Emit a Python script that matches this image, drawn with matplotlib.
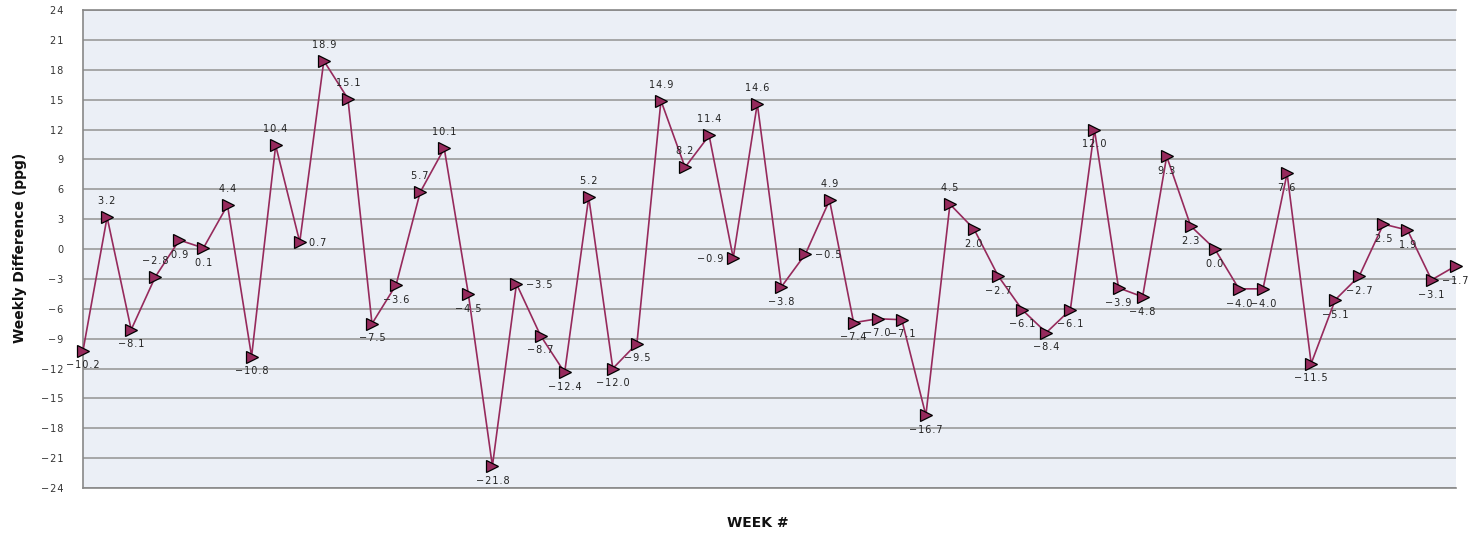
import numpy as np
import matplotlib.pyplot as plt

# weekly differences (ppg), week index 1..58
values = [-10.2, 3.2, -8.1, -2.8, 0.9, 0.1, 4.4, -10.8, 10.4, 0.7,
          18.9, 15.1, -7.5, -3.6, 5.7, 10.1, -4.5, -21.8, -3.5, -8.7,
          -12.4, 5.2, -12.0, -9.5, 14.9, 8.2, 11.4, -0.9, 14.6, -3.8,
          -0.5, 4.9, -7.4, -7.0, -7.1, -16.7, 4.5, 2.0, -2.7, -6.1,
          -8.4, -6.1, 12.0, -3.9, -4.8, 9.3, 2.3, 0.0, -4.0, -4.0,
          7.6, -11.5, -5.1, -2.7, 2.5, 1.9, -3.1, -1.7]
weeks = np.arange(len(values))
# where each value label sits: a=above, b=below, l=left, r=right
label_pos = (list("bababbabar") + list("aabbaabbrb") + list("babbaaalab")
             + list("rabbbbabbb") + list("bbbbbbbbbb") + list("bbbbbbbb"))

y_ticks = list(range(-24, 25, 3))

LINE = "#962a5c"
BG = "#ebeff6"
HS = "\u200a"

fig = plt.figure(figsize=(14.72, 5.33), dpi=100)
ax = fig.add_axes([0.0564, 0.0844, 0.9325, 0.8968])
ax.set_facecolor(BG)

ax.plot(weeks, values, color=LINE, lw=1.2, zorder=3, clip_on=False)
ax.plot(weeks, values, ls="none", marker=">", ms=8.5, mfc=LINE,
        mec="black", mew=0.9, zorder=4, clip_on=False)

for x, v, p in zip(weeks, values, label_pos):
    txt = HS.join(f"{v:.1f}").replace("-", "\u2212")
    kw = dict(textcoords="offset points", fontsize=7, color="#222222")
    if p == "a":
        ax.annotate(txt, (x, v), xytext=(0, 8), ha="center", va="bottom", **kw)
    elif p == "b":
        ax.annotate(txt, (x, v), xytext=(0, -7), ha="center", va="top", **kw)
    elif p == "l":
        ax.annotate(txt, (x, v), xytext=(-7, -1), ha="right", va="center", **kw)
    else:
        ax.annotate(txt, (x, v), xytext=(7, -1), ha="left", va="center", **kw)

ax.set_xlim(0, len(values) - 1)
ax.set_ylim(-24, 24)
ax.set_xticks([])
ax.set_yticks(y_ticks)
ax.set_yticklabels([HS.join(str(t)).replace("-", "\u2212") for t in y_ticks],
                   fontsize=7, color="#333333")
ax.tick_params(axis="y", length=0, pad=14)
ax.grid(axis="y", color="#9a9a9a", lw=1.2, zorder=1)
ax.set_axisbelow(True)

for s in ["left", "bottom", "top"]:
    ax.spines[s].set_color("#888888")
    ax.spines[s].set_linewidth(1.2)
ax.spines["right"].set_visible(False)

fig.text(0.0136, 0.535, "Weekly Difference (ppg)", rotation=90, ha="center",
         va="center", fontsize=10, fontweight="bold", color="#111111")
fig.text(0.515, 0.019, "WEEK #", ha="center", va="center", fontsize=10,
         fontweight="bold", color="#111111")

fig.savefig("out.png", dpi=100, facecolor="white")
